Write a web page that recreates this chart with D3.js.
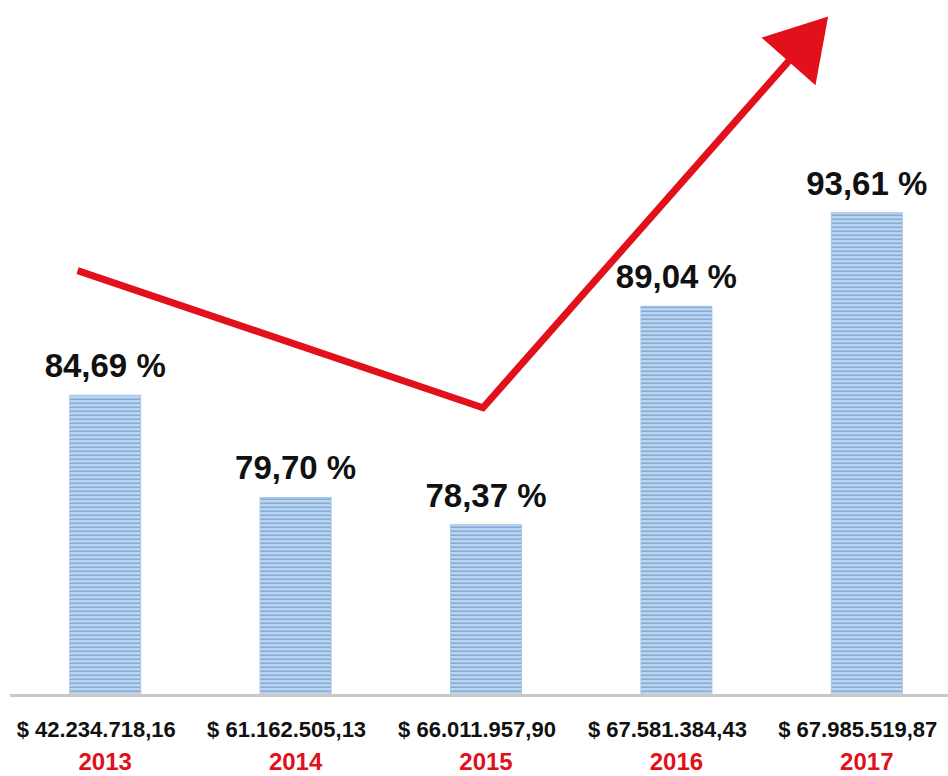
<!DOCTYPE html>
<html>
<head>
<meta charset="utf-8">
<script src="https://cdn.jsdelivr.net/npm/d3@7"></script>
<style>
  body { margin: 0; background: #fff; }
  svg { display: block; }
  text { font-family: "Liberation Sans", Arial, sans-serif; font-weight: bold; }
</style>
</head>
<body>
<svg id="chart"></svg>
<script>
// Chart data
var years = ["2013", "2014", "2015", "2016", "2017"];
var percents = [84.69, 79.70, 78.37, 89.04, 93.61];
var amounts = ["$ 42.234.718,16", "$ 61.162.505,13", "$ 66.011.957,90", "$ 67.581.384,43", "$ 67.985.519,87"];
var percentLabels = ["84,69 %", "79,70 %", "78,37 %", "89,04 %", "93,61 %"];
// Trend arrow: [band index position, value]
var trendPoints = [[-0.145, 90.78], [1.984, 84.08], [3.797, 103.2]];

var width = 948, height = 776;
var baseY = 696;

var svg = d3.select("#chart")
            .attr("width", width)
            .attr("height", height);

// Striped fill for bars
var defs = svg.append("defs");
var pat = defs.append("pattern")
              .attr("id", "stripes")
              .attr("patternUnits", "userSpaceOnUse")
              .attr("width", 8)
              .attr("height", 4);
pat.append("rect").attr("width", 8).attr("height", 4).attr("fill", "#bcd5ef");
pat.append("rect").attr("y", 2.5).attr("width", 8).attr("height", 1.5).attr("fill", "#83aad8");

var xScale = d3.scaleBand()
               .domain(years)
               .range([10, 962])
               .paddingInner(0.627)
               .paddingOuter(0.3135);

var yScale = d3.scaleLinear()
               .domain([70, 100])
               .range([baseY, baseY - 30 * 20.47]);

var xIdx = d3.scaleLinear()
             .domain([0, years.length - 1])
             .range([xScale(years[0]) + xScale.bandwidth() / 2,
                     xScale(years[years.length - 1]) + xScale.bandwidth() / 2]);

var data = years.map(function(y, i) {
    return {year: y, value: percents[i], amount: amounts[i], label: percentLabels[i]};
});

function center(d) {return xScale(d.year) + xScale.bandwidth() / 2;}

// Bars
svg.selectAll(".bar")
   .data(data)
   .enter()
   .append("rect")
   .classed("bar", true)
   .attr("x", function(d) {return xScale(d.year);})
   .attr("y", function(d) {return yScale(d.value);})
   .attr("width", xScale.bandwidth())
   .attr("height", function(d) {return baseY - yScale(d.value);})
   .attr("fill", "url(#stripes)")
   .attr("stroke", "#a9c6e8")
   .attr("stroke-width", 1);

// Baseline
svg.append("line")
   .attr("x1", 10)
   .attr("x2", width)
   .attr("y1", baseY - 0.5)
   .attr("y2", baseY - 0.5)
   .attr("stroke", "#c8c8c8")
   .attr("stroke-width", 3);

// Percent labels
svg.selectAll(".pct")
   .data(data)
   .enter()
   .append("text")
   .classed("pct", true)
   .attr("x", center)
   .attr("y", function(d) {return yScale(d.value) - 18;})
   .attr("text-anchor", "middle")
   .style("font-size", "33px")
   .attr("fill", "#111")
   .text(function(d) {return d.label;});

// Amount labels
svg.selectAll(".amount")
   .data(data)
   .enter()
   .append("text")
   .classed("amount", true)
   .attr("x", function(d) {return center(d) - 9;})
   .attr("y", 737)
   .attr("text-anchor", "middle")
   .style("font-size", "22px")
   .attr("fill", "#111")
   .text(function(d) {return d.amount;});

// Year labels
svg.selectAll(".year")
   .data(data)
   .enter()
   .append("text")
   .classed("year", true)
   .attr("x", center)
   .attr("y", 770)
   .attr("text-anchor", "middle")
   .style("font-size", "24px")
   .attr("fill", "#e2101b")
   .text(function(d) {return d.year;});

// Trend arrow
var pts = trendPoints.map(function(p) {return [xIdx(p[0]), yScale(p[1])];});
var tip = pts[pts.length - 1];
var prev = pts[pts.length - 2];
var dx = tip[0] - prev[0], dy = tip[1] - prev[1];
var len = Math.sqrt(dx * dx + dy * dy);
var ux = dx / len, uy = dy / len;
var headLen = 60, headHalf = 36;
var base = [tip[0] - ux * headLen, tip[1] - uy * headLen];
var linePts = pts.slice(0, -1).concat([[tip[0] - ux * 40, tip[1] - uy * 40]]);

svg.append("path")
   .attr("d", d3.line()(linePts))
   .attr("fill", "none")
   .attr("stroke", "#e2101b")
   .attr("stroke-width", 7)
   .attr("stroke-linejoin", "miter");

svg.append("polygon")
   .attr("points", [tip,
                    [base[0] - uy * headHalf, base[1] + ux * headHalf],
                    [base[0] + uy * headHalf, base[1] - ux * headHalf]].join(" "))
   .attr("fill", "#e2101b");
</script>
</body>
</html>
